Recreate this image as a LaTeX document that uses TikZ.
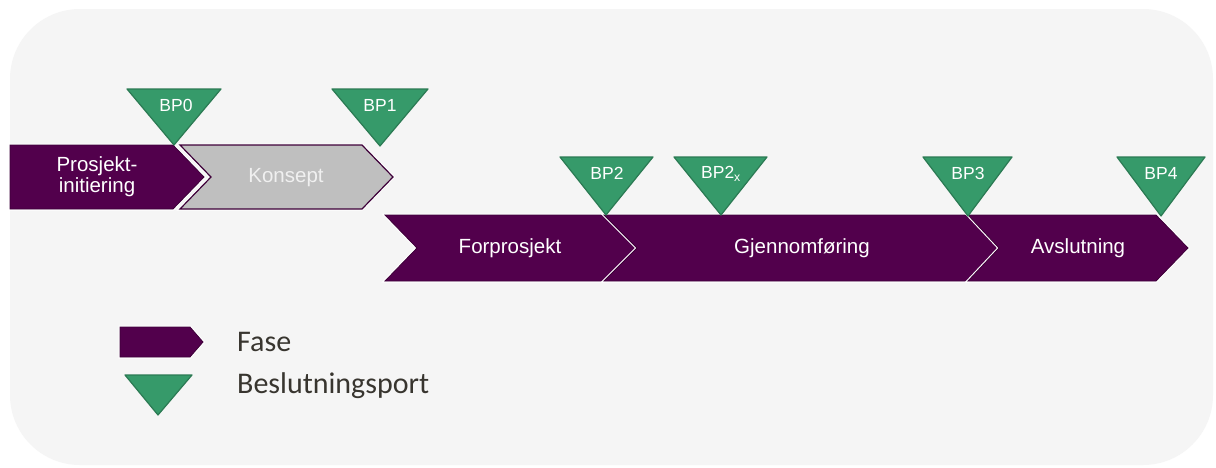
\documentclass[tikz,border=0pt]{standalone}
\usepackage{fontspec}
\setmainfont{Liberation Sans}
\newfontfamily\legendfont{Carlito}
\definecolor{phasefill}{HTML}{52004C}
\definecolor{phaseedge}{HTML}{3E0039}
\definecolor{gatefill}{HTML}{369A6A}
\definecolor{gateedge}{HTML}{2B7A53}
\definecolor{conceptfill}{HTML}{BFBFBF}
\definecolor{panel}{HTML}{F5F5F5}
\definecolor{legendtext}{HTML}{38352F}
\begin{document}
\begin{tikzpicture}[x=1pt,y=-1pt,
  phasebox/.style={fill=phasefill, draw=phaseedge, line width=0.8pt,
    preaction={draw=white, line width=3pt}},
  conceptbox/.style={phasebox, fill=conceptfill, line width=1.2pt},
  gatebox/.style={fill=gatefill, draw=gateedge, line width=1.2pt, line join=round},
  phaselabel/.style={text=white, font=\fontsize{20.5}{21}\selectfont, align=center, inner sep=0pt},
  gatelabel/.style={text=white, font=\fontsize{17.5}{18}\selectfont, inner sep=0pt},
  legendlabel/.style={text=legendtext, font=\legendfont\fontsize{30}{32}\selectfont, anchor=west, inner sep=0pt}]
\useasboundingbox (0,0) rectangle (1216,467);
\fill[white] (0,0) rectangle (1216,467);
\fill[panel, rounded corners=70pt] (10,9) rectangle (1213,465);

% phases
\draw[phasebox] (10,145) -- (173,145) -- (204,177) -- (173,209) -- (10,209) -- cycle;
\draw[conceptbox] (180,145) -- (362,145) -- (393,177) -- (362,209) -- (180,209) -- (211,177) -- cycle;
\draw[phasebox] (385,215) -- (604,215) -- (637,248) -- (604,281) -- (385,281) -- (417,248) -- cycle;
\draw[phasebox] (604,215) -- (968,215) -- (999,248) -- (968,281) -- (604,281) -- (637,248) -- cycle;
\draw[phasebox] (968,215) -- (1156,215) -- (1188,248) -- (1156,281) -- (968,281) -- (999,248) -- cycle;

\node[phaselabel] (initiering) at (97,177) {Prosjekt-\\initiering};
\node[phaselabel, text=white!94!black] (konsept) at (286,178) {Konsept};
\node[phaselabel] (forprosjekt) at (510,248) {Forprosjekt};
\node[phaselabel] (gjennomforing) at (802,248) {Gjennomføring};
\node[phaselabel] (avslutning) at (1078,248) {Avslutning};

% decision gates
\draw[gatebox] (127,89) -- (221,89) -- (174,145) -- cycle;
\node[gatelabel] (bp0) at (176,105) {BP0};
\draw[gatebox] (332,89) -- (428,89) -- (380,146) -- cycle;
\node[gatelabel] (bp1) at (380,105) {BP1};
\draw[gatebox] (560,157) -- (653,157) -- (606,215) -- cycle;
\node[gatelabel] (bp2) at (607,173) {BP2};
\draw[gatebox] (674,157) -- (767,157) -- (721,215) -- cycle;
\node[gatelabel] (bp2x) at (721,174) {BP2\textsubscript{x}};
\draw[gatebox] (923,157) -- (1012,157) -- (968,216) -- cycle;
\node[gatelabel] (bp3) at (968,173) {BP3};
\draw[gatebox] (1117,157) -- (1205,157) -- (1161,216) -- cycle;
\node[gatelabel] (bp4) at (1161,173) {BP4};

% legend
\draw[phasebox, preaction={}] (120,327) -- (190,327) -- (203,342) -- (190,357) -- (120,357) -- cycle;
\draw[gatebox] (125,375) -- (192,375) -- (158,415) -- cycle;
\node[legendlabel] (fase) at (237,342) {Fase};
\node[legendlabel] (port) at (237,386) {Beslutningsport};
\end{tikzpicture}
\end{document}
